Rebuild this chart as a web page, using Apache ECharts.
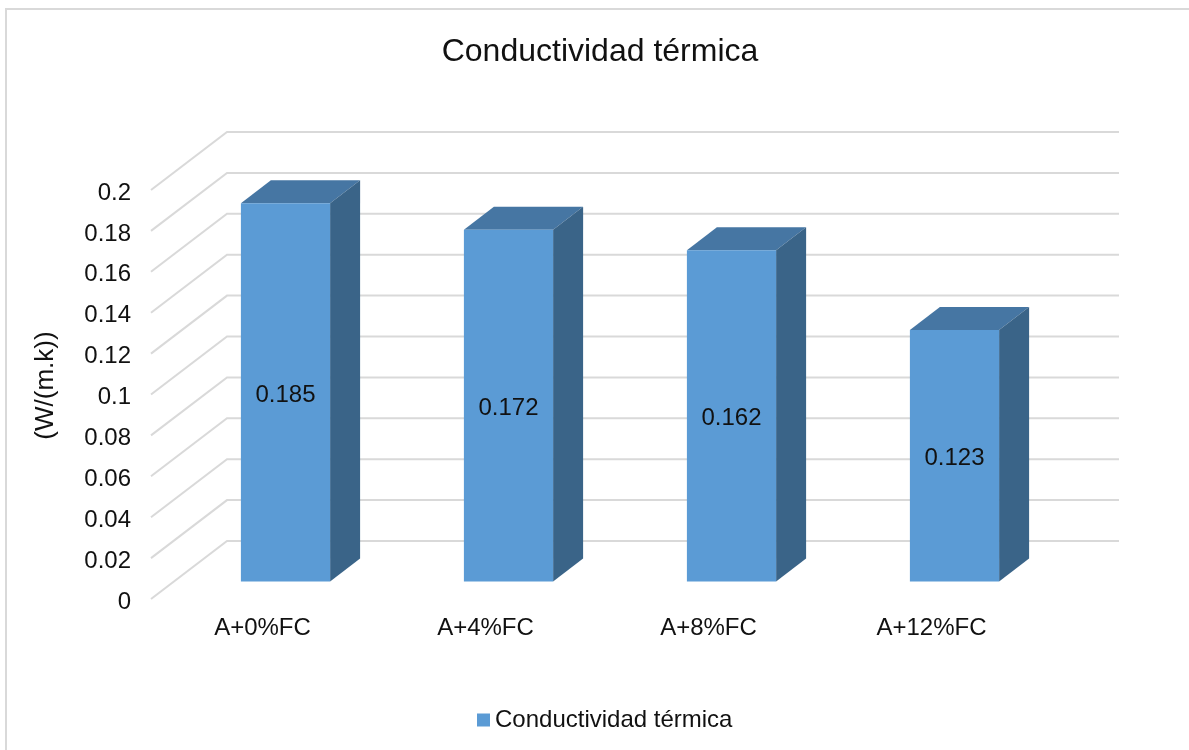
<!DOCTYPE html>
<html>
<head>
<meta charset="utf-8">
<title>Conductividad térmica</title>
<style>
    html, body {margin: 0; padding: 0; background: #fff;}
    #chart {width: 1189px; height: 750px;}
</style>
<script src="https://cdn.jsdelivr.net/npm/echarts@6/dist/echarts.min.js"></script>
</head>
<body>
<div id="chart"></div>
<script>
var chartTitle = 'Conductividad térmica';
var yName = '(W/(m.k))';
var categories = ['A+0%FC', 'A+4%FC', 'A+8%FC', 'A+12%FC'];
var values = [0.185, 0.172, 0.162, 0.123];
var yTicks = [0, 0.02, 0.04, 0.06, 0.08, 0.1, 0.12, 0.14, 0.16, 0.18, 0.2];

var fontName = '"Liberation Sans", Arial, sans-serif';
var textColor = '#111';

window.onload = function () {
    //------------------------------ back wall and side wall lines
    function renderWall(params, api) {
        var grid = params.coordSys;
        var p = api.coord([0, api.value(0)]);
        return {
            type: 'polyline',
            silent: true,
            shape: {
                points: [
                    [grid.x, p[1]],
                    [grid.x + 76, p[1] - 58],
                    [grid.x + grid.width + 76, p[1] - 58]
                ]
            },
            style: {fill: null, stroke: '#d9d9d9', lineWidth: 2}
        };
    }

    //------------------------------ 3d bars
    function renderBar(params, api) {
        var top = api.coord([api.value(0), api.value(1)]);
        var base = api.coord([api.value(0), 0]);
        var w = api.size([1, 0])[0] * 0.4;
        var x0 = top[0] + 23 - w / 2, x1 = x0 + w;
        var y0 = top[1] - 17.5, y1 = base[1] - 17.5;
        var dx = 30, dy = -23;
        return {
            type: 'group',
            children: [
                {
                    type: 'polygon',
                    shape: {points: [[x0, y0], [x0 + dx, y0 + dy], [x1 + dx, y0 + dy], [x1, y0]]},
                    style: {fill: '#4676a3'}
                },
                {
                    type: 'polygon',
                    shape: {points: [[x1, y0], [x1 + dx, y0 + dy], [x1 + dx, y1 + dy], [x1, y1]]},
                    style: {fill: '#3a6488'}
                },
                {
                    type: 'rect',
                    shape: {x: x0, y: y0, width: w, height: y1 - y0},
                    style: {fill: '#5b9bd5'}
                },
                {
                    type: 'text',
                    style: {
                        x: (x0 + x1) / 2,
                        y: (y0 + y1) / 2 + 3,
                        text: String(api.value(1)),
                        fill: textColor,
                        font: '24px ' + fontName,
                        align: 'center',
                        verticalAlign: 'middle'
                    }
                }
            ]
        };
    }

    echarts.init(document.getElementById('chart')).setOption({
        animation: false,
        backgroundColor: '#fff',
        title: {
            text: chartTitle,
            left: 595,
            top: 31,
            textAlign: 'center',
            textStyle: {fontFamily: fontName, fontSize: 32, fontWeight: 'normal', color: textColor}
        },
        legend: {
            data: [chartTitle],
            left: 472,
            top: 703,
            itemWidth: 13,
            itemHeight: 13,
            icon: 'rect',
            textStyle: {fontFamily: fontName, fontSize: 24, color: textColor}
        },
        grid: {left: 151, top: 190, width: 892, height: 409},
        xAxis: {
            type: 'category',
            data: categories,
            axisLine: {show: false},
            axisTick: {show: false},
            axisLabel: {fontFamily: fontName, fontSize: 24, color: textColor, margin: 17}
        },
        yAxis: {
            type: 'value',
            min: 0,
            max: 0.2,
            interval: 0.02,
            name: yName,
            nameLocation: 'middle',
            nameGap: 92,
            nameRotate: 90,
            nameTextStyle: {fontFamily: fontName, fontSize: 26, color: textColor, padding: [0, 0, 0, 18]},
            axisLine: {show: false},
            axisTick: {show: false},
            splitLine: {show: false},
            axisLabel: {
                margin: 20,
                formatter: '{a|{value}}',
                rich: {
                    a: {fontFamily: fontName, fontSize: 24, color: textColor, padding: [6, 0, 0, 0]}
                }
            }
        },
        graphic: [{
            type: 'rect',
            silent: true,
            shape: {x: 6, y: 9, width: 1190, height: 750},
            style: {fill: 'transparent', stroke: '#d9d9d9', lineWidth: 2}
        }],
        series: [
            {
                type: 'custom',
                renderItem: renderWall,
                data: yTicks.map(function (v) {
                    return [v];
                }),
                encode: {y: 0},
                silent: true,
                z: 1
            },
            {
                name: chartTitle,
                type: 'custom',
                renderItem: renderBar,
                itemStyle: {color: '#5b9bd5'},
                data: values.map(function (v, i) {
                    return [i, v];
                }),
                encode: {x: 0, y: 1},
                z: 2
            }
        ]
    });
};
</script>
</body>
</html>
